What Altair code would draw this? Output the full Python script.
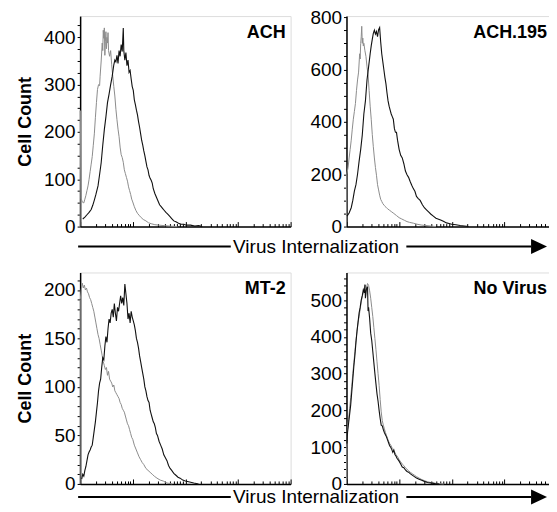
import altair as alt
import numpy as np
import pandas as pd

FONT = "Liberation Sans"

# Each curve: (x in decades of fluorescence = log10 intensity, cell count)
ACH_GRAY = [(0.00,0),(0.003,245),(0.02,60),(0.04,52),(0.07,50),(0.09,58),(0.11,66),(0.13,76),(0.15,86),(0.17,100),
            (0.19,116),(0.21,132),(0.23,148),(0.25,172),(0.27,196),(0.29,230),(0.31,262),(0.33,290),(0.35,300),
            (0.37,298),(0.38,318),(0.40,350),(0.42,388),(0.43,372),(0.44,415),(0.45,398),(0.46,420),(0.47,362),
            (0.48,392),(0.49,412),(0.50,376),(0.51,400),(0.52,388),(0.53,410),(0.54,372),(0.56,360),(0.58,372),
            (0.60,342),(0.62,318),(0.64,296),(0.66,276),(0.68,248),(0.70,226),(0.72,206),(0.74,190),(0.76,168),
            (0.78,152),(0.80,146),(0.82,136),(0.84,120),(0.86,112),(0.88,104),(0.90,96),(0.92,84),(0.94,76),
            (0.96,68),(0.98,58),(1.00,52),(1.03,42),(1.06,34),(1.09,28),(1.12,24),(1.16,19),(1.20,15),(1.25,12),
            (1.30,8),(1.35,6),(1.42,4),(1.50,3),(1.60,2),(1.70,1),(1.85,0)]
ACH_BLACK = [(0.05,16),(0.09,20),(0.13,25),(0.17,30),(0.21,36),(0.24,45),(0.27,56),(0.30,68),(0.34,86),
             (0.37,110),(0.40,135),(0.43,172),(0.46,205),(0.49,232),(0.52,262),(0.55,280),(0.58,300),(0.61,318),
             (0.64,342),(0.66,352),(0.68,348),(0.70,362),(0.72,345),(0.74,372),(0.76,360),(0.78,385),(0.80,370),
             (0.82,420),(0.83,372),(0.85,352),(0.87,368),(0.89,340),(0.91,352),(0.93,326),(0.95,330),(0.97,312),
             (0.99,296),(1.01,288),(1.03,268),(1.05,258),(1.07,246),(1.09,236),(1.11,222),(1.13,210),(1.15,196),
             (1.17,182),(1.19,172),(1.21,160),(1.23,150),(1.25,138),(1.27,126),(1.29,120),(1.31,108),(1.33,102),
             (1.35,98),(1.37,92),(1.39,80),(1.42,70),(1.45,62),(1.48,54),(1.51,46),(1.54,42),(1.57,38),(1.60,34),
             (1.63,30),(1.66,27),(1.70,22),(1.74,17),(1.78,12),(1.82,10),(1.87,7),(1.92,5),(1.97,5),(2.02,3),
             (2.10,3),(2.18,1),(2.25,2),(2.32,0)]

ACH195_GRAY = [(0.00,0),(0.005,200),(0.03,225),(0.05,262),(0.07,295),(0.09,330),(0.11,372),(0.13,410),(0.15,440),
               (0.17,470),(0.19,520),(0.21,560),(0.23,590),(0.25,660),(0.26,640),(0.27,700),(0.28,725),(0.29,765),
               (0.30,700),(0.31,720),(0.32,690),(0.33,700),(0.35,672),(0.37,650),(0.39,610),(0.41,580),(0.43,520),
               (0.45,460),(0.47,410),(0.49,352),(0.51,305),(0.53,262),(0.55,226),(0.57,196),(0.59,160),(0.61,140),
               (0.63,120),(0.65,104),(0.67,96),(0.69,88),(0.72,80),(0.75,74),(0.78,68),(0.82,62),(0.86,56),
               (0.90,50),(0.95,42),(1.00,34),(1.05,29),(1.10,24),(1.15,19),(1.20,16),(1.27,13),(1.34,9),(1.42,6),
               (1.50,4),(1.60,2),(1.70,0)]
ACH195_BLACK = [(0.01,40),(0.05,52),(0.09,72),(0.12,100),(0.15,135),(0.18,160),(0.21,200),(0.24,250),(0.27,295),
                (0.30,350),(0.33,430),(0.36,480),(0.39,560),(0.42,610),(0.45,660),(0.47,690),(0.49,715),(0.51,738),
                (0.53,750),(0.55,735),(0.57,745),(0.59,725),(0.61,752),(0.63,760),(0.65,705),(0.67,660),(0.69,630),
                (0.71,600),(0.73,570),(0.75,545),(0.77,510),(0.79,480),(0.81,460),(0.83,445),(0.85,430),(0.87,420),
                (0.89,410),(0.91,375),(0.93,360),(0.95,360),(0.97,330),(1.00,295),(1.03,272),(1.06,262),(1.09,240),
                (1.12,212),(1.15,198),(1.18,188),(1.21,172),(1.24,158),(1.27,145),(1.30,135),(1.33,115),(1.36,108),
                (1.40,100),(1.44,84),(1.48,72),(1.52,64),(1.56,56),(1.60,48),(1.65,40),(1.70,32),(1.75,28),(1.80,24),
                (1.85,19),(1.90,14),(1.95,12),(2.00,9),(2.08,7),(2.16,4),(2.24,2),(2.32,0)]

MT2_GRAY = [(0.00,0),(0.003,190),(0.02,200),(0.04,207),(0.06,202),(0.08,205),(0.10,200),(0.12,202),(0.14,198),(0.16,196),
            (0.18,192),(0.20,190),(0.22,186),(0.24,182),(0.26,178),(0.28,172),(0.30,166),(0.32,160),(0.34,154),
            (0.36,150),(0.38,144),(0.40,138),(0.42,132),(0.44,126),(0.46,122),(0.48,118),(0.50,120),(0.52,112),
            (0.54,116),(0.56,108),(0.58,106),(0.60,104),(0.62,100),(0.64,102),(0.66,96),(0.68,94),(0.70,92),
            (0.72,90),(0.74,88),(0.76,84),(0.78,82),(0.80,78),(0.82,76),(0.84,74),(0.86,70),(0.88,66),(0.90,62),
            (0.92,60),(0.94,56),(0.96,52),(0.98,48),(1.00,46),(1.03,40),(1.06,36),(1.09,32),(1.12,28),(1.15,25),
            (1.18,22),(1.21,20),(1.25,16),(1.29,14),(1.33,12),(1.37,10),(1.41,8),(1.46,6),(1.52,4),(1.58,3),
            (1.65,1),(1.75,0)]
MT2_BLACK = [(0.03,5),(0.05,10),(0.07,8),(0.09,14),(0.11,18),(0.13,24),(0.15,30),(0.17,33),(0.19,35),(0.21,38),
             (0.23,40),(0.25,48),(0.27,56),(0.29,64),(0.31,74),(0.33,84),(0.35,96),(0.37,104),(0.39,108),(0.41,120),
             (0.43,130),(0.45,128),(0.47,142),(0.49,152),(0.51,146),(0.53,160),(0.55,170),(0.57,166),(0.59,176),
             (0.61,180),(0.63,172),(0.65,186),(0.67,176),(0.69,168),(0.71,182),(0.73,178),(0.75,186),(0.77,194),
             (0.79,186),(0.81,192),(0.83,184),(0.85,206),(0.87,196),(0.89,186),(0.91,170),(0.93,176),(0.95,166),
             (0.97,178),(0.99,172),(1.01,168),(1.03,164),(1.05,158),(1.07,150),(1.09,146),(1.11,140),(1.13,132),
             (1.15,126),(1.17,120),(1.19,114),(1.21,108),(1.23,100),(1.25,96),(1.27,90),(1.29,86),(1.31,84),
             (1.33,76),(1.35,72),(1.37,68),(1.39,64),(1.41,62),(1.43,58),(1.45,52),(1.47,50),(1.50,44),(1.53,40),
             (1.56,36),(1.59,30),(1.62,27),(1.65,24),(1.68,19),(1.71,16),(1.74,14),(1.78,11),(1.82,9),(1.86,7),
             (1.90,6),(1.95,4),(2.00,3),(2.08,2),(2.16,1),(2.25,0)]

NOVIRUS_GRAY = [(0.00,0),(0.005,100),(0.02,150),(0.04,175),(0.06,205),(0.08,235),(0.10,265),(0.12,300),(0.14,330),
                (0.16,360),(0.18,390),(0.20,415),(0.22,440),(0.24,455),(0.26,475),(0.28,495),(0.30,510),(0.32,520),
                (0.34,530),(0.36,541),(0.38,532),(0.40,545),(0.42,540),(0.44,525),(0.46,505),(0.48,480),(0.50,455),
                (0.52,425),(0.54,395),(0.56,365),(0.58,332),(0.60,300),(0.62,268),(0.64,230),(0.66,196),(0.68,172),
                (0.70,160),(0.72,150),(0.74,140),(0.76,132),(0.78,124),(0.80,116),(0.82,110),(0.84,106),(0.86,100),
                (0.88,96),(0.90,90),(0.92,86),(0.94,80),(0.96,76),(0.98,72),(1.00,66),(1.03,60),(1.06,54),(1.09,50),
                (1.12,44),(1.15,40),(1.18,36),(1.21,32),(1.25,28),(1.29,24),(1.33,20),(1.38,16),(1.43,12),(1.48,9),
                (1.54,6),(1.60,4),(1.68,2),(1.76,1),(1.85,0)]
NOVIRUS_BLACK = [(0.01,110),(0.02,140),(0.04,165),(0.06,190),(0.08,215),(0.10,250),(0.12,285),(0.14,320),
                 (0.16,350),(0.18,385),(0.20,415),(0.22,440),(0.24,465),(0.26,480),(0.28,500),(0.30,512),(0.32,528),
                 (0.34,520),(0.35,542),(0.36,505),(0.38,530),(0.40,536),(0.41,470),(0.42,480),(0.44,450),(0.46,410),
                 (0.48,390),(0.50,360),(0.52,330),(0.54,300),(0.56,272),(0.58,245),(0.60,225),(0.62,200),(0.64,178),
                 (0.66,160),(0.68,158),(0.70,148),(0.72,140),(0.74,134),(0.76,128),(0.78,120),(0.80,112),(0.82,104),
                 (0.84,100),(0.86,94),(0.88,86),(0.90,92),(0.92,80),(0.94,76),(0.96,70),(0.98,66),(1.00,62),(1.03,54),
                 (1.06,46),(1.09,44),(1.12,38),(1.15,34),(1.18,32),(1.21,28),(1.25,24),(1.29,20),(1.33,16),(1.38,13),
                 (1.43,10),(1.48,7),(1.54,4),(1.60,3),(1.68,1),(1.76,0)]

X_TICKS = [1, 2, 3, 4, 5, 6, 7, 8, 9,
           10, 20, 30, 40, 50, 60, 70, 80, 90,
           100, 200, 300, 400, 500, 600, 700, 800, 900,
           1000, 2000, 3000, 4000, 5000, 6000, 7000, 8000, 9000, 10000]
X_MAJOR = [1, 10, 100, 1000, 10000]
X_DECADES = 4

Y_TICKS_ACH = [0, 25, 50, 75, 100, 125, 150, 175, 200, 225, 250, 275, 300, 325, 350, 375, 400, 425]
Y_TICKS_ACH195 = [0, 50, 100, 150, 200, 250, 300, 350, 400, 450, 500, 550, 600, 650, 700, 750, 800]
Y_TICKS_MT2 = [0, 10, 20, 30, 40, 50, 60, 70, 80, 90, 100, 110, 120, 130, 140, 150, 160, 170, 180, 190, 200, 210]
Y_TICKS_NOVIRUS = [0, 20, 40, 60, 80, 100, 120, 140, 160, 180, 200, 220, 240, 260, 280, 300, 320, 340, 360,
                   380, 400, 420, 440, 460, 480, 500, 520, 540, 560]

PANEL_W = 211          # width holding the full 4 decades
RIGHT_W = 205          # right column runs off the page edge, as in the figure
GAP = 56

# arrow under each row (pixels from the left panel's plot origin)
ARROW_SEGMENTS = [(-2, 151), (327, 452)]
ARROW_HEAD_X = 460
ARROW_TEXT_X = 236.5


def curve_df(pairs):
    d = np.array([p[0] for p in pairs], dtype=float)
    c = [p[1] for p in pairs]
    return pd.DataFrame({"intensity": np.power(10.0, d), "count": c})


def arrow_layers(line_y, text_y, text_baseline):
    layers = []
    for xa, xb in ARROW_SEGMENTS:
        layers.append(alt.Chart(pd.DataFrame({"k": [0]})).mark_rule(strokeWidth=2, color="black").encode(
            x=alt.value(xa), x2=alt.value(xb), y=alt.value(line_y)))
    layers.append(alt.Chart(pd.DataFrame({"k": [0]})).mark_point(
        shape="M-1,-0.94L1,0L-1,0.94Z", size=256, filled=True, color="black", opacity=1, strokeWidth=0
    ).encode(x=alt.value(ARROW_HEAD_X), y=alt.value(line_y)))
    layers.append(alt.Chart(pd.DataFrame({"t": ["Virus Internalization"]})).mark_text(
        font=FONT, fontSize=19, align="center", baseline=text_baseline, color="black"
    ).encode(x=alt.value(ARROW_TEXT_X), y=alt.value(text_y), text="t:N"))
    return layers


def panel(name, gray, black, ymax, yticks, ystep, height, width, left, arrow=None):
    xmax = 10 ** (X_DECADES * width / PANEL_W)
    xs = alt.Scale(type="log", domain=[1, xmax], nice=False)
    ys = alt.Scale(domain=[0, ymax], nice=False, zero=True)
    xaxis = alt.Axis(orient="top", offset=-height, values=[v for v in X_TICKS if v <= xmax], labels=False,
                     title=None, grid=False, domainColor="black", domainWidth=1.5, tickColor="black", tickWidth=1,
                     tickSize={"condition": {"test": "indexof(" + str(X_MAJOR) + ", datum.value) >= 0",
                                             "value": 5}, "value": 3})
    yaxis = alt.Axis(values=yticks, labelExpr="datum.value % " + str(ystep) + " === 0 ? datum.label : ''",
                     grid=False, tickSize=3, tickColor="black", tickWidth=1, domainColor="black",
                     domainWidth=1.5, labelFont=FONT, labelFontSize=19, labelColor="black", labelPadding=2,
                     labelOverlap=False,
                     title="Cell Count" if left else None, titleFont=FONT, titleFontSize=18,
                     titleFontWeight="bold", titleColor="black", titlePadding=9)
    x = alt.X("intensity:Q", scale=xs, axis=xaxis)
    y = alt.Y("count:Q", scale=ys, axis=yaxis)
    g = alt.Chart(curve_df(gray)).mark_line(color="#8c8c8c", strokeWidth=1).encode(x=x, y=y)
    b = alt.Chart(curve_df(black)).mark_line(color="#111111", strokeWidth=1.1).encode(x=x, y=y)
    t = alt.Chart(pd.DataFrame({"label": [name]})).mark_text(
        align="right", baseline="alphabetic", font=FONT, fontSize=18, fontWeight="bold", color="black"
    ).encode(x=alt.value(206 if left else 201), y=alt.value(22), text="label:N")
    layers = [g, b, t] + (arrow_layers(*arrow) if arrow is not None else [])
    return alt.layer(*layers).properties(width=width, height=height)


p1 = panel("ACH", ACH_GRAY, ACH_BLACK, 445, Y_TICKS_ACH, 100, 211, PANEL_W, True, arrow=(231, 231, "middle"))
p2 = panel("ACH.195", ACH195_GRAY, ACH195_BLACK, 804, Y_TICKS_ACH195, 200, 211, RIGHT_W, False)
p3 = panel("MT-2", MT2_GRAY, MT2_BLACK, 218, Y_TICKS_MT2, 50, 212, PANEL_W, True, arrow=(225, 231, "alphabetic"))
p4 = panel("No Virus", NOVIRUS_GRAY, NOVIRUS_BLACK, 575, Y_TICKS_NOVIRUS, 100, 212, RIGHT_W, False)

chart = alt.concat(p1, p2, p3, p4, columns=2, spacing={"row": 46, "column": GAP}, bounds="flush").properties(
    padding={"left": 7.3, "top": -1.5, "right": -3, "bottom": -3}
).configure_view(stroke="#444444", strokeWidth=1).configure(font=FONT)

chart.save("out.html", embed_options={"renderer": "svg", "actions": False})
